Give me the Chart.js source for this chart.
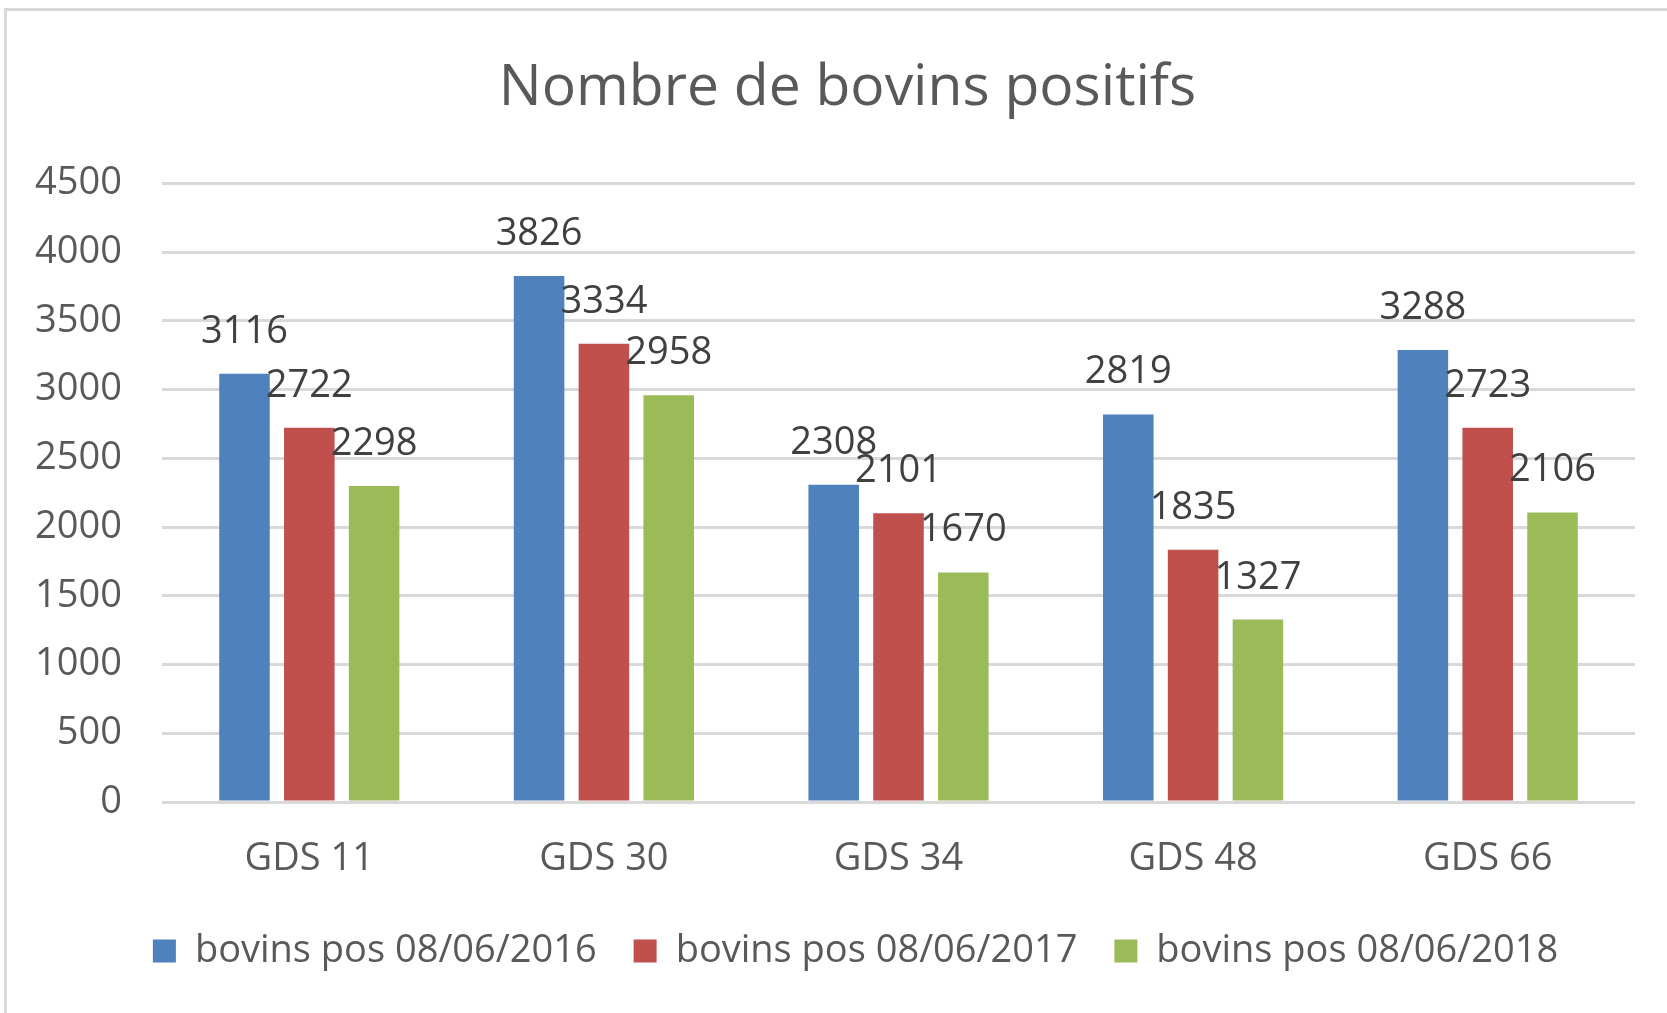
<!DOCTYPE html>
<html>
<head>
<meta charset="utf-8">
<script src="https://cdn.jsdelivr.net/npm/chart.js@4"></script>
<style>
  html, body { margin: 0; padding: 0; background: #fff; }
  #wrap { position: relative; width: 1667px; height: 1013px; }
  #frame {
    position: absolute; left: 4px; top: 8px; right: 0; bottom: 0;
    border-left: 3px solid #d9d9d9; border-top: 3px solid #d9d9d9;
    pointer-events: none;
  }
</style>
</head>
<body>
<div id="wrap">
  <canvas id="chart" width="1667" height="1013"></canvas>
  <div id="frame"></div>
</div>
<script>
// Data
const categories = ['GDS 11', 'GDS 30', 'GDS 34', 'GDS 48', 'GDS 66'];
const seriesNames = ['bovins pos 08/06/2016', 'bovins pos 08/06/2017', 'bovins pos 08/06/2018'];
const pos2016 = [3116, 3826, 2308, 2819, 3288];
const pos2017 = [2722, 3334, 2101, 1835, 2723];
const pos2018 = [2298, 2958, 1670, 1327, 2106];
const colors = ['#4f81bd', '#c0504d', '#9bbb59'];

const FONT = "'Open Sans', 'Noto Sans', sans-serif";

// Draw the value above each bar
const barLabels = {
    id: 'barLabels',
    afterDatasetsDraw(chart) {
        const ctx = chart.ctx;
        ctx.save();
        ctx.font = '38px ' + FONT;
        ctx.fillStyle = '#404040';
        ctx.textAlign = 'center';
        ctx.textBaseline = 'alphabetic';
        chart.data.datasets.forEach((ds, i) => {
            chart.getDatasetMeta(i).data.forEach((bar, j) => {
                ctx.fillText(String(ds.data[j]), bar.x, bar.y - 31);
            });
        });
        ctx.restore();
    }
};

// nudge the legend a little to the right, like the original
const legendShift = {
    id: 'legendShift',
    afterLayout(chart) {
        chart.legend.left += 8;
        chart.legend.right += 8;
    }
};

const ctx = document.getElementById('chart').getContext('2d');
new Chart(ctx, {
    type: 'bar',
    data: {
        labels: categories,
        datasets: [pos2016, pos2017, pos2018].map((d, i) => ({
            label: seriesNames[i],
            data: d,
            backgroundColor: colors[i],
            borderWidth: 0,
            categoryPercentage: 0.66,
            barPercentage: 0.78
        }))
    },
    options: {
        responsive: false,
        animation: false,
        layout: { padding: { left: 28, right: 0, top: 0, bottom: 33 } },
        plugins: {
            title: {
                display: true,
                text: 'Nombre de bovins positifs',
                color: '#595959',
                font: { family: FONT, size: 57, weight: 'normal' },
                padding: { top: 55, bottom: 60 }
            },
            legend: {
                position: 'bottom',
                labels: {
                    color: '#595959',
                    font: { family: FONT, size: 38 },
                    boxWidth: 23,
                    boxHeight: 23,
                    padding: 37
                }
            },
            tooltip: { enabled: false }
        },
        scales: {
            x: {
                grid: { display: false },
                border: { display: false },
                ticks: {
                    color: '#595959',
                    font: { family: FONT, size: 38 },
                    padding: 26
                },
                afterFit(scale) { scale.height = 93; }
            },
            y: {
                min: 0,
                max: 4500,
                ticks: {
                    stepSize: 500,
                    color: '#595959',
                    font: { family: FONT, size: 38 },
                    padding: 40,
                    callback: (v) => String(v)
                },
                grid: { color: '#d9d9d9', lineWidth: 3, drawTicks: false },
                border: { display: false },
                afterFit(scale) { scale.width = 134; }
            },
            right: {
                position: 'right',
                grid: { display: false },
                border: { display: false },
                ticks: { display: false },
                afterFit(scale) { scale.width = 32; }
            }
        }
    },
    plugins: [barLabels, legendShift]
});
</script>
</body>
</html>
